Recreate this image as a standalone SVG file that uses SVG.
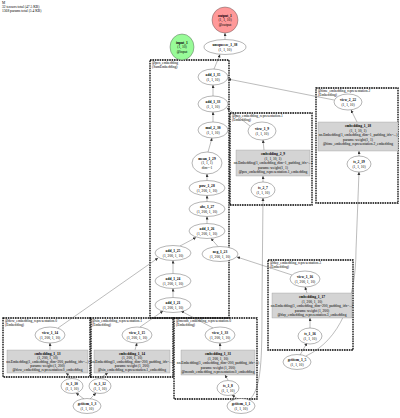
<svg xmlns="http://www.w3.org/2000/svg" width="400" height="418" viewBox="0 0 400 418">
<style>
text{font-family:"Liberation Serif","DejaVu Serif",serif;font-size:3.6px;fill:#000;text-anchor:middle}
.b{font-weight:bold}
.l{text-anchor:start}
.cl{fill:none;stroke:#000;stroke-width:1.3;stroke-dasharray:1.6,0.8}
.n{fill:#fff;stroke:#444;stroke-width:0.4}
.g{fill:#d4d4d4;stroke:#888;stroke-width:0.3}
.e{fill:none;stroke:#555;stroke-width:0.4;marker-end:url(#a)}
</style>
<defs><marker id="a" markerUnits="userSpaceOnUse" markerWidth="4" markerHeight="4" refX="3" refY="1.5" orient="auto"><path d="M0,0L3,1.5L0,3z" fill="#333"/></marker></defs>
<rect width="400" height="418" fill="#fff"/>
<g id="summary"><text class="l" x="2" y="4">M</text><text class="l" x="2" y="8">32 tensors total (47.5 KB)</text><text class="l" x="2" y="12">1368 params total (5.4 KB)</text></g>

<g id="clusters">
<rect class="cl" x="150" y="60" width="79" height="258"/><text class="l" x="152" y="64">@pos_embedding</text><text class="l" x="152" y="68">(SumEmbedding)</text>
<rect class="cl" x="316" y="88" width="82" height="115"/><text class="l" x="318" y="92">@time_embedding_representation.2</text><text class="l" x="318" y="96">(Embedding)</text>
<rect class="cl" x="230" y="113" width="82" height="92"/><text class="l" x="232" y="117">@pos_embedding_representation.1</text><text class="l" x="232" y="121">(Embedding)</text>
<rect class="cl" x="268" y="260" width="85" height="90"/><text class="l" x="270" y="264">@day_embedding_representation.3</text><text class="l" x="270" y="268">(Embedding)</text>
<rect class="cl" x="3" y="318" width="88" height="59"/><text class="l" x="5" y="322">@dow_embedding_representation.0</text><text class="l" x="5" y="326">(Embedding)</text>
<rect class="cl" x="90" y="318" width="83" height="59"/><text class="l" x="92" y="322">@sin_embedding_representation.1</text><text class="l" x="92" y="326">(Embedding)</text>
<rect class="cl" x="174" y="318" width="83" height="81"/><text class="l" x="176" y="322">@month_embedding_representation.0</text><text class="l" x="176" y="326">(Embedding)</text>
</g>

<g id="connectors">
<line class="e" x1="225" y1="39.5" x2="225" y2="33"/>
<line class="e" x1="214" y1="69" x2="220" y2="54.5"/>
<line class="e" x1="213" y1="96" x2="213" y2="85"/>
<line class="e" x1="334" y1="100" x2="228" y2="79"/>
<line class="e" x1="213" y1="122" x2="213" y2="112"/>
<line class="e" x1="250" y1="126" x2="227" y2="108"/>
<line class="e" x1="208" y1="152" x2="212" y2="138"/>
<line class="e" x1="207" y1="180.5" x2="207" y2="174"/>
<line class="e" x1="207" y1="201.5" x2="207" y2="195.5"/>
<line class="e" x1="207" y1="223.5" x2="207" y2="216.5"/>
<line class="e" x1="180" y1="246" x2="196" y2="237.5"/>
<line class="e" x1="218" y1="246.5" x2="211" y2="238.5"/>
<line class="e" x1="173" y1="273.5" x2="173" y2="260.5"/>
<line class="e" x1="173" y1="297.5" x2="173" y2="288.5"/>
<line class="e" x1="292" y1="275" x2="237" y2="257"/>
<line class="e" x1="58" y1="328" x2="158" y2="258"/>
<line class="e" x1="140" y1="327" x2="163" y2="311"/>
<line class="e" x1="213" y1="328" x2="181" y2="311"/>
<line class="e" x1="357" y1="122" x2="351" y2="110"/>
<line class="e" x1="359" y1="156" x2="359" y2="151"/>
<line class="e" x1="264" y1="150" x2="263" y2="140"/>
<line class="e" x1="263" y1="182" x2="263" y2="176"/>
<line class="e" x1="307" y1="293" x2="305" y2="287"/>
<line class="e" x1="310" y1="328" x2="310" y2="318"/>
<line class="e" x1="50" y1="350" x2="50" y2="343"/>
<line class="e" x1="72" y1="378" x2="66" y2="373"/>
<line class="e" x1="135" y1="350" x2="137" y2="343"/>
<line class="e" x1="100" y1="378" x2="108" y2="373"/>
<line class="e" x1="220" y1="350" x2="220" y2="343"/>
<line class="e" x1="228" y1="380" x2="225" y2="375"/>
<line class="e" x1="84" y1="399" x2="76" y2="393"/>
<line class="e" x1="90" y1="399" x2="96" y2="393"/>
<line class="e" x1="238" y1="399" x2="232" y2="395"/>
<path class="e" d="M248,401C262,390 262,360 262,300L263,198"/>
<line class="e" x1="300" y1="355" x2="307" y2="343"/>
<path class="e" d="M306,356C340,340 356,300 356,250L359,172"/>
</g>

<g id="output_1"><ellipse cx="225" cy="20" rx="13" ry="13" fill="#ff9999" stroke="#444" stroke-width="0.4"/><text class="b" x="225" y="16.5">output_1</text><text x="225" y="21">(1, 1, 10)</text><text x="225" y="25.5">@output</text></g>
<g id="input_1"><ellipse cx="182" cy="47" rx="12" ry="13" fill="#98fb98" stroke="#444" stroke-width="0.4"/><text class="b" x="182" y="43.5">input_1</text><text x="182" y="48">(1, 10)</text><text x="182" y="52.5">@input</text></g>
<g id="unsqueeze_1_38"><ellipse class="n" cx="225" cy="47" rx="21" ry="7.5"/><text class="b" x="225" y="46">unsqueeze_1_38</text><text x="225" y="50.5">(1, 1, 10)</text></g>

<g id="add_1_35"><ellipse class="n" cx="213" cy="77" rx="15" ry="8"/><text class="b" x="213" y="76">add_1_35</text><text x="213" y="80.5">(1, 1, 10)</text></g>
<g id="add_1_33"><ellipse class="n" cx="213" cy="104" rx="15" ry="8"/><text class="b" x="213" y="103">add_1_33</text><text x="213" y="107.5">(1, 1, 10)</text></g>
<g id="mul_2_30"><ellipse class="n" cx="213" cy="130" rx="15" ry="8"/><text class="b" x="213" y="129">mul_2_30</text><text x="213" y="133.5">(1, 1, 10)</text></g>
<g id="mean_1_29"><ellipse class="n" cx="207" cy="163" rx="15" ry="11"/><text class="b" x="207" y="159.5">mean_1_29</text><text x="207" y="164">(1, 1, 1)</text><text x="207" y="168.5">dim=-1</text></g>
<g id="pow_1_28"><ellipse class="n" cx="207" cy="188" rx="18" ry="7.5"/><text class="b" x="207" y="187">pow_1_28</text><text x="207" y="191.5">(1, 200, 1, 10)</text></g>
<g id="abs_1_27"><ellipse class="n" cx="207" cy="209" rx="18" ry="7.5"/><text class="b" x="207" y="208">abs_1_27</text><text x="207" y="212.5">(1, 200, 1, 10)</text></g>
<g id="add_1_26"><ellipse class="n" cx="207" cy="231" rx="18" ry="7.5"/><text class="b" x="207" y="230">add_1_26</text><text x="207" y="234.5">(1, 200, 1, 10)</text></g>
<g id="add_1_25"><ellipse class="n" cx="173" cy="253" rx="18" ry="7.5"/><text class="b" x="173" y="252">add_1_25</text><text x="173" y="256.5">(1, 200, 1, 10)</text></g>
<g id="neg_1_23"><ellipse class="n" cx="220" cy="254" rx="18" ry="7.5"/><text class="b" x="220" y="253">neg_1_23</text><text x="220" y="257.5">(1, 200, 1, 10)</text></g>
<g id="add_1_24"><ellipse class="n" cx="173" cy="281" rx="18" ry="7.5"/><text class="b" x="173" y="280">add_1_24</text><text x="173" y="284.5">(1, 200, 1, 10)</text></g>
<g id="add_1_21"><ellipse class="n" cx="173" cy="305" rx="18" ry="7.5"/><text class="b" x="173" y="304">add_1_21</text><text x="173" y="308.5">(1, 200, 1, 10)</text></g>

<g id="view_2_22"><ellipse class="n" cx="348" cy="102" rx="14" ry="8"/><text class="b" x="348" y="101">view_2_22</text><text x="348" y="105.5">(1, 1, 10)</text></g>
<g id="embedding_1_18"><rect class="g" x="318" y="122" width="80" height="29"/><text class="b" x="358" y="127">embedding_1_18</text><text x="358" y="131.5">(1, 1, 10, 1)</text><text x="358" y="136">nn.Embedding(1, embedding_dim=1, padding_idx=...)</text><text x="358" y="140.5">params: weight(1, 1)</text><text x="358" y="145">@time_embedding_representation.2_embedding</text></g>
<g id="ts_2_19"><ellipse class="n" cx="359" cy="164" rx="12" ry="8"/><text class="b" x="359" y="163">ts_2_19</text><text x="359" y="167.5">(1, 1, 10)</text></g>

<g id="view_1_9"><ellipse class="n" cx="262" cy="131" rx="14" ry="9"/><text class="b" x="262" y="130">view_1_9</text><text x="262" y="134.5">(1, 1, 10)</text></g>
<g id="embedding_2_9"><rect class="g" x="236" y="150" width="74" height="26"/><text class="b" x="273" y="155">embedding_2_9</text><text x="273" y="159.5">(1, 1, 10, 1)</text><text x="273" y="164">nn.Embedding(1, embedding_dim=1, padding_idx=...)</text><text x="273" y="168.5">params: weight(1, 1)</text><text x="273" y="173">@pos_embedding_representation.1_embedding</text></g>
<g id="ts_2_7"><ellipse class="n" cx="263" cy="190" rx="12" ry="8"/><text class="b" x="263" y="189">ts_2_7</text><text x="263" y="193.5">(1, 1, 10)</text></g>

<g id="view_1_16"><ellipse class="n" cx="305" cy="279" rx="15" ry="8"/><text class="b" x="305" y="278">view_1_16</text><text x="305" y="282.5">(1, 200, 1, 10)</text></g>
<g id="embedding_1_17"><rect class="g" x="272" y="293" width="80" height="25"/><text class="b" x="312" y="298">embedding_1_17</text><text x="312" y="302.5">(1, 200, 1, 10)</text><text x="312" y="307">nn.Embedding(1, embedding_dim=200, padding_idx=...)</text><text x="312" y="311.5">params: weight (1, 200)</text><text x="312" y="316">@day_embedding_representation.3_embedding</text></g>
<g id="ts_1_16"><ellipse class="n" cx="310" cy="336" rx="12" ry="8"/><text class="b" x="310" y="335">ts_1_16</text><text x="310" y="339.5">(1, 1, 10)</text></g>
<g id="getitem_1_5"><ellipse class="n" cx="297" cy="362" rx="14" ry="7.5"/><text class="b" x="297" y="361">getitem_1_5</text><text x="297" y="365.5">(1, 1, 10)</text></g>

<g id="view_1_14"><ellipse class="n" cx="50" cy="335" rx="15" ry="8"/><text class="b" x="50" y="334">view_1_14</text><text x="50" y="338.5">(1, 200, 1, 10)</text></g>
<g id="embedding_1_13"><rect class="g" x="7" y="350" width="81" height="23"/><text class="b" x="47.5" y="355">embedding_1_13</text><text x="47.5" y="359">(1, 200, 1, 10)</text><text x="47.5" y="363">nn.Embedding(1, embedding_dim=200, padding_idx=...)</text><text x="47.5" y="367">params: weight (1, 200)</text><text x="47.5" y="371">@dow_embedding_representation.0_embedding</text></g>
<g id="ts_1_10"><ellipse class="n" cx="72" cy="386" rx="11" ry="7.5"/><text class="b" x="72" y="385">ts_1_10</text><text x="72" y="389.5">(1, 1, 10)</text></g>
<g id="ts_1_12"><ellipse class="n" cx="100" cy="386" rx="11" ry="7.5"/><text class="b" x="100" y="385">ts_1_12</text><text x="100" y="389.5">(1, 1, 10)</text></g>
<g id="getitem_1_3"><ellipse class="n" cx="87" cy="406" rx="14" ry="7.5"/><text class="b" x="87" y="405">getitem_1_3</text><text x="87" y="409.5">(1, 1, 10)</text></g>

<g id="view_1_15"><ellipse class="n" cx="137" cy="335" rx="15" ry="8"/><text class="b" x="137" y="334">view_1_15</text><text x="137" y="338.5">(1, 200, 1, 10)</text></g>
<g id="embedding_1_14"><rect class="g" x="94" y="350" width="76" height="23"/><text class="b" x="132" y="355">embedding_1_14</text><text x="132" y="359">(1, 200, 1, 10)</text><text x="132" y="363">nn.Embedding(1, embedding_dim=200, padding_idx=...)</text><text x="132" y="367">params: weight (1, 200)</text><text x="132" y="371">@sin_embedding_representation.1_embedding</text></g>

<g id="view_1_33"><ellipse class="n" cx="220" cy="335" rx="15" ry="8"/><text class="b" x="220" y="334">view_1_33</text><text x="220" y="338.5">(1, 200, 1, 10)</text></g>
<g id="embedding_1_31"><rect class="g" x="181" y="350" width="74" height="25"/><text class="b" x="218" y="355">embedding_1_31</text><text x="218" y="359.5">(1, 200, 1, 10)</text><text x="218" y="364">nn.Embedding(1, embedding_dim=200, padding_idx=...)</text><text x="218" y="368.5">params: weight (1, 200)</text><text x="218" y="373">@month_embedding_representation.0_embedding</text></g>
<g id="ts_1_8"><ellipse class="n" cx="228" cy="388" rx="11" ry="7.5"/><text class="b" x="228" y="387">ts_1_8</text><text x="228" y="391.5">(1, 1, 10)</text></g>
<g id="getitem_1_1"><ellipse class="n" cx="241" cy="406" rx="14" ry="7.5"/><text class="b" x="241" y="405">getitem_1_1</text><text x="241" y="409.5">(1, 1, 10)</text></g>
</svg>
